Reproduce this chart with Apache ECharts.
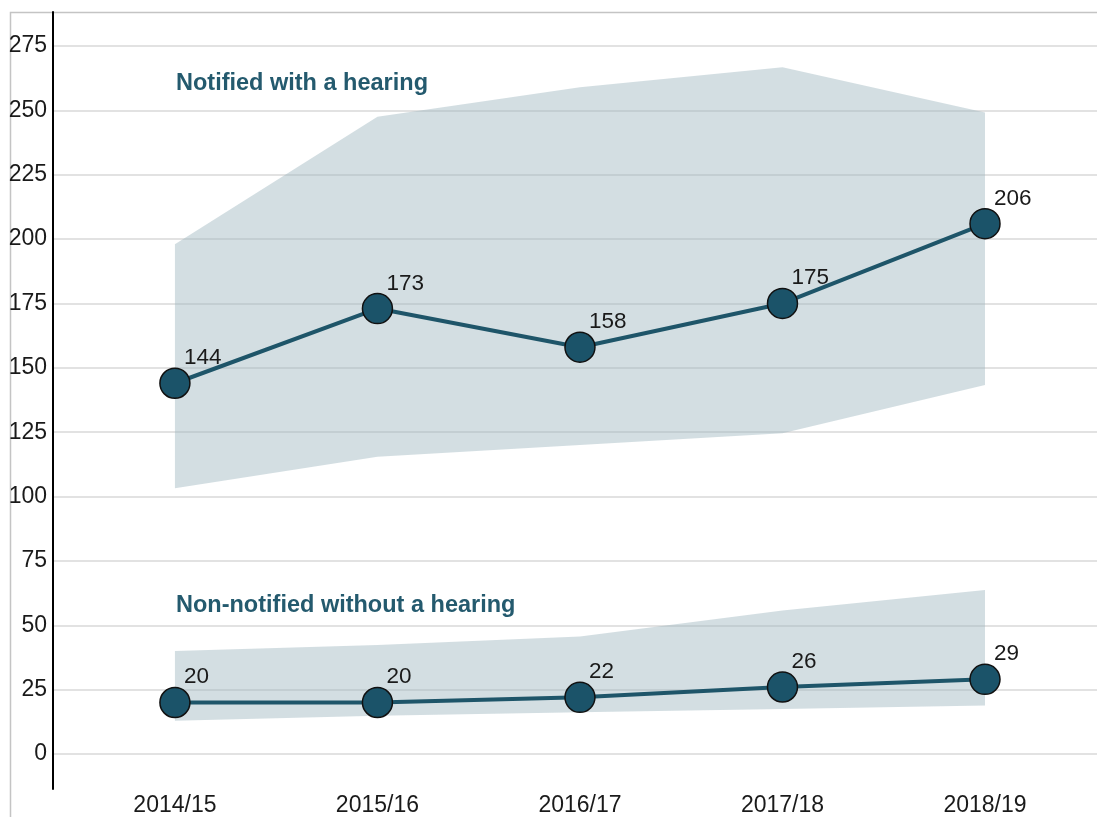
<!DOCTYPE html>
<html>
<head>
<meta charset="utf-8">
<script src="https://cdn.jsdelivr.net/npm/echarts@6/dist/echarts.min.js"></script>
<style>html,body{margin:0;padding:0;background:#fff}#c{width:1097px;height:817px}</style>
</head>
<body>
<div id="c"></div>
<script>
const categories = ['2014/15', '2015/16', '2016/17', '2017/18', '2018/19'];
const notified = [144, 173, 158, 175, 206];
const notifiedUpper = [198, 247.5, 259, 266.7, 249.2];
const notifiedLower = [103.2, 115.5, 120, 124.6, 143.3];
const nonNotified = [20, 20, 22, 26, 29];
const nonNotifiedUpper = [40, 42.3, 45.6, 55.7, 63.7];
const nonNotifiedLower = [12.9, 14.9, 16.2, 17.5, 18.8];
const yTicks = [0, 25, 50, 75, 100, 125, 150, 175, 200, 225, 250, 275];
const seriesNames = ['Notified with a hearing', 'Non-notified without a hearing'];

const FONT = "'Liberation Sans', Arial, sans-serif";
const toPts = arr => arr.map((v, i) => [i, v]);

function bandSeries(upper, lower) {
  return {
    type: 'custom',
    silent: true,
    z: 1,
    data: [0],
    renderItem: function (params, api) {
      const pts = [];
      for (let i = 0; i < upper.length; i++) pts.push(api.coord([i, upper[i]]));
      for (let i = lower.length - 1; i >= 0; i--) pts.push(api.coord([i, lower[i]]));
      return {
        type: 'polygon',
        shape: { points: pts },
        style: { fill: 'rgba(157,182,191,0.45)', stroke: null }
      };
    }
  };
}

function lineSeries(name, values) {
  return {
    name: name,
    type: 'line',
    z: 3,
    data: toPts(values),
    symbol: 'circle',
    symbolSize: 30,
    lineStyle: { color: '#1e5569', width: 4 },
    itemStyle: { color: '#1b5369', borderColor: '#111', borderWidth: 1.5 },
    label: {
      show: true,
      position: 'top',
      distance: 0,
      align: 'left',
      offset: [9, 2],
      fontSize: 22.5,
      fontFamily: FONT,
      color: '#1a1a1a',
      formatter: p => p.value[1]
    },
    emphasis: { disabled: true },
    animation: false
  };
}

const chart = echarts.init(document.getElementById('c'), null, { renderer: 'canvas' });
chart.setOption({
  animation: false,
  backgroundColor: '#fff',
  title: [
    { text: seriesNames[0], left: 176, top: 72, padding: 0,
      textStyle: { fontSize: 23.5, fontWeight: 'bold', color: '#245a6e', fontFamily: FONT } },
    { text: seriesNames[1], left: 176, top: 594, padding: 0,
      textStyle: { fontSize: 23.5, fontWeight: 'bold', color: '#245a6e', fontFamily: FONT } }
  ],
  graphic: [
    { type: 'rect', left: 8, top: 10, shape: { width: 1200, height: 900 },
      style: { fill: null, stroke: '#c4c4c4', lineWidth: 1.5 }, silent: true, z: 0 }
  ],
  grid: { left: 53, right: 0, top: 12, bottom: 28, containLabel: false },
  xAxis: {
    type: 'value',
    min: -0.602,
    max: 4.553,
    axisLine: { show: false },
    axisTick: { show: false, customValues: [0, 1, 2, 3, 4] },
    splitLine: { show: false },
    axisLabel: {
      customValues: [0, 1, 2, 3, 4],
      formatter: v => categories[Math.round(v)],
      fontSize: 23,
      fontFamily: FONT,
      color: '#1a1a1a',
      margin: 5
    }
  },
  yAxis: {
    type: 'value',
    min: -13.6,
    max: 288.2,
    axisLine: { show: true, onZero: false, lineStyle: { color: '#000', width: 2 } },
    axisTick: { show: false, customValues: yTicks },
    splitLine: { show: true, lineStyle: { color: '#d9d9d9', width: 1.5 } },
    axisLabel: {
      customValues: yTicks,
      fontSize: 23,
      fontFamily: FONT,
      color: '#1a1a1a',
      margin: 6
    }
  },
  series: [
    bandSeries(notifiedUpper, notifiedLower),
    bandSeries(nonNotifiedUpper, nonNotifiedLower),
    lineSeries(seriesNames[0], notified),
    lineSeries(seriesNames[1], nonNotified)
  ]
});
</script>
</body>
</html>
